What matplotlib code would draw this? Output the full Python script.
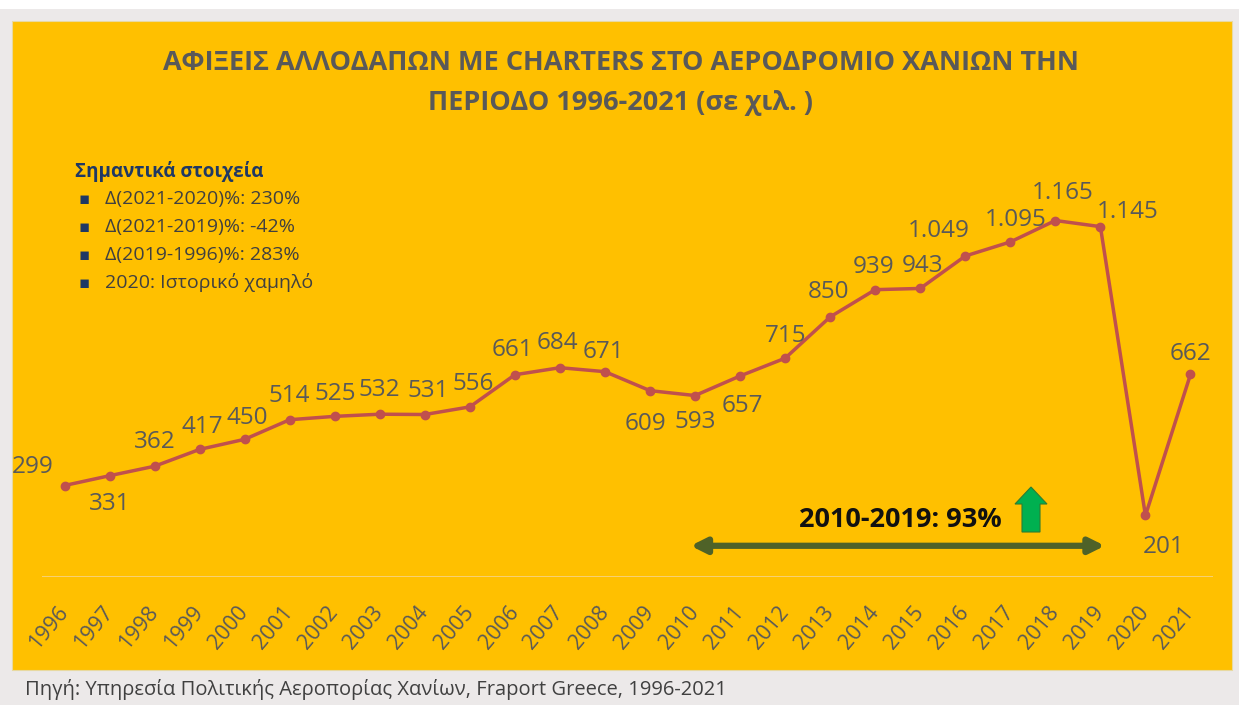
import matplotlib
matplotlib.use('Agg')
import matplotlib.pyplot as plt
import matplotlib.patches as mpatches

plt.rcParams['font.family'] = ['Open Sans', 'DejaVu Sans']

years = list(range(1996, 2022))
arrivals = [299, 331, 362, 417, 450, 514, 525, 532, 531, 556, 661, 684, 671,
            609, 593, 657, 715, 850, 939, 943, 1049, 1095, 1165, 1145, 201, 662]

title = 'ΑΦΙΞΕΙΣ ΑΛΛΟΔΑΠΩΝ ΜΕ CHARTERS ΣΤΟ ΑΕΡΟΔΡΟΜΙΟ ΧΑΝΙΩΝ ΤΗΝ\nΠΕΡΙΟΔΟ 1996-2021 (σε χιλ. )'
notes_title = 'Σημαντικά στοιχεία'
notes = ['Δ(2021-2020)%: 230%', 'Δ(2021-2019)%: -42%',
         'Δ(2019-1996)%: 283%', '2020: Ιστορικό χαμηλό']
growth_text = '2010-2019: 93%'
source = 'Πηγή: Υπηρεσία Πολιτικής Αεροπορίας Χανίων, Fraport Greece, 1996-2021'

# label offsets in pixels (dx, dy), dy positive = up
label_off = [(-32, 19), (0, -28), (0, 24), (3, 22), (3, 21), (0, 24), (1, 22),
             (0, 24), (3, 24), (3, 23), (-2, 25), (-3, 25), (-2, 20), (-5, -33),
             (0, -26), (2, -30), (0, 22), (-2, 25), (-2, 23), (2, 22), (-27, 25),
             (5, 22), (7, 28), (27, 15), (18, -32), (0, 20)]

W, H = 1239, 705
fig = plt.figure(figsize=(W / 100, H / 100), dpi=100, facecolor='#ECE9E9')

# white strip at top, yellow panel
fig.patches.append(mpatches.Rectangle((0, 1 - 9 / H), 1, 9 / H, transform=fig.transFigure,
                                      facecolor='white', edgecolor='none', zorder=0))
fig.patches.append(mpatches.Rectangle((12 / W, 1 - 670 / H), (1232 - 12) / W, (670 - 21) / H,
                                      transform=fig.transFigure, facecolor='#FFC000',
                                      edgecolor='#E8D9A0', linewidth=0.8, zorder=0))

ymax = 1300
ax_left, ax_right = 42, 1213
ax_bottom = 577
ax_h = ymax * 0.306
ax = fig.add_axes([ax_left / W, (H - ax_bottom) / H, (ax_right - ax_left) / W, ax_h / H])
ax.set_zorder(2)
ax.set_facecolor('none')
ax.set_xlim(years[0] - 0.5, years[-1] + 0.5)
ax.set_ylim(0, ymax)
for s in ax.spines.values():
    s.set_visible(False)
ax.axhline(0, color='#F6D48A', linewidth=1.2, zorder=1)
ax.set_yticks([])
ax.set_xticks(years)
ax.set_xticklabels([str(y) for y in years], rotation=50, ha='right', va='center',
                   rotation_mode='anchor', fontsize=15.5, color='#595959')
ax.tick_params(axis='x', length=0, pad=23)

ax.plot(years, arrivals, color='#C0504D', linewidth=2.5, marker='o', markersize=6, zorder=3)

for yr, v, (dx, dy) in zip(years, arrivals, label_off):
    lab = f'{v:,}'.replace(',', '.')
    ax.annotate(lab, (yr, v), xytext=(dx, dy), textcoords='offset pixels',
                ha='center', va='center', fontsize=17.5, color='#595959')

# growth annotation: double arrow spanning 2010-2019
ax.annotate('', xy=(years[14] - 0.1, 102), xytext=(years[23] + 0.1, 102),
            arrowprops=dict(arrowstyle='<|-|>,head_length=0.9,head_width=0.45',
                            color='#4F6228', lw=4.5, shrinkA=0, shrinkB=0))
fig.text(900 / W, 1 - 520 / H, growth_text, ha='center', va='center',
         fontsize=19.5, fontweight='bold', color='#111111', zorder=5)
fig.patches.append(mpatches.FancyArrow(10.31, (H - 532) / 100, 0, 0.45, width=0.18,
                                       head_width=0.32, head_length=0.17,
                                       length_includes_head=True,
                                       transform=fig.dpi_scale_trans,
                                       facecolor='#00B050', edgecolor='#2E7D32',
                                       linewidth=0.8, zorder=5))

# title
fig.text(621 / W, 1 - 83 / H, title, ha='center', va='center', fontsize=19.5,
         fontweight='bold', color='#595959', linespacing=1.65, zorder=5)

# notes box
fig.text(75 / W, 1 - 171 / H, notes_title, ha='left', va='center', fontsize=13.5,
         fontweight='bold', color='#1F3864', zorder=5)
for i, n in enumerate(notes):
    yy = 1 - (199 + i * 28) / H
    fig.text(78 / W, yy, '▪', ha='left', va='center', fontsize=12, color='#1F3864',
             family='DejaVu Sans', zorder=5)
    fig.text(105 / W, yy, n, ha='left', va='center', fontsize=14, color='#404040', zorder=5)

# source
fig.text(25 / W, 1 - 690 / H, source, ha='left', va='center', fontsize=14.5,
         color='#404040', zorder=5)

fig.savefig('out.png', dpi=100, facecolor=fig.get_facecolor())
